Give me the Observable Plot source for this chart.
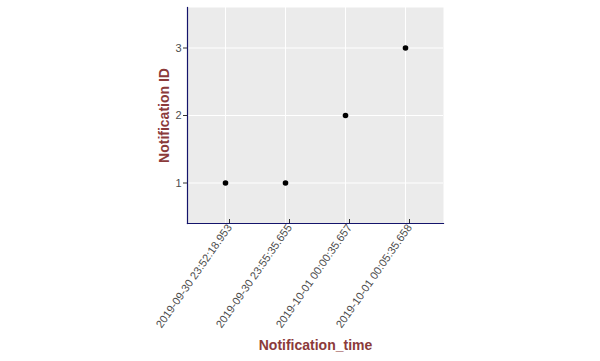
<!DOCTYPE html>
<html>
<head>
<meta charset="utf-8">
<script src="https://cdn.jsdelivr.net/npm/d3@7"></script>
<script src="https://cdn.jsdelivr.net/npm/@observablehq/plot@0.6"></script>
<style>
  body { margin: 0; background: #fff; }
  svg { font-family: "Liberation Sans", Arial, sans-serif; }
  g[aria-label="x-axis label"] text, g[aria-label="y-axis label"] text {
    fill: #8b3a3a; font-weight: bold; font-size: 14px;
  }
  g[aria-label="x-axis tick label"] text, g[aria-label="y-axis tick label"] text {
    fill: #4d4d4d;
  }
</style>
</head>
<body>
<div id="chart"></div>
<script>
const times = [
  "2019-09-30 23:52:18.953",
  "2019-09-30 23:55:35.655",
  "2019-10-01 00:00:35.657",
  "2019-10-01 00:05:35.658"
];
const ids = [1, 1, 2, 3];
const yTicks = [1, 2, 3];

const data = times.map((t, i) => ({time: t, id: ids[i]}));

const chart = Plot.plot({
  width: 600,
  height: 361,
  marginLeft: 187,
  marginRight: 157,
  marginTop: 7,
  marginBottom: 138,
  style: {fontSize: "11px", fontFamily: "Liberation Sans, Arial, sans-serif", background: "#fff"},
  x: {type: "point", domain: times, padding: 0.6},
  y: {domain: [0.4, 3.6]},
  marks: [
    Plot.frame({fill: "#ebebeb", stroke: null}),
    Plot.gridY(yTicks, {stroke: "#fff", strokeOpacity: 1, strokeWidth: 1}),
    Plot.gridX(times, {stroke: "#fff", strokeOpacity: 1, strokeWidth: 1}),
    Plot.frame({anchor: "left", stroke: "#14146b", strokeWidth: 1.2}),
    Plot.frame({anchor: "bottom", stroke: "#14146b", strokeWidth: 1.2}),
    Plot.axisY(yTicks, {tickSize: 4, tickPadding: 2, stroke: "#333", label: "Notification ID", labelArrow: "none", labelAnchor: "center", labelOffset: 28, tickFormat: d => d}),
    Plot.axisX(times, {tickSize: 4, tickPadding: 2, tickRotate: -55, dx: 4, dy: -4, stroke: "#333", label: "Notification_time", labelAnchor: "center", labelOffset: 126, labelArrow: "none"}),
    Plot.dot(data, {x: "time", y: "id", r: 2.8, fill: "#000", stroke: null})
  ]
});
document.getElementById("chart").appendChild(chart);
</script>
</body>
</html>
